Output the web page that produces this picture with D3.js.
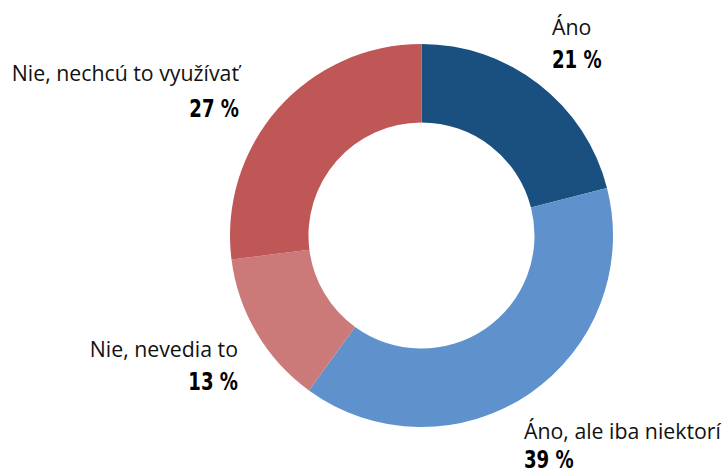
<!doctype html>
<html lang="sk">
<head>
  <meta charset="utf-8">
  <title>Donut</title>
  <style>
    body { margin: 0; background: #fff; }
    .lbl { font-family: "Open Sans", "Noto Sans", sans-serif; font-size: 21.3px; fill: #111; }
    .pct { font-family: "DejaVu Sans Condensed", "DejaVu Sans", sans-serif; font-weight: bold; font-size: 24px; fill: #000; }
  </style>
</head>
<body>
  <div id="chart"></div>
  <script src="https://cdn.jsdelivr.net/npm/d3@7"></script>
  <script>
var categories = ["Áno", "Áno, ale iba niektorí", "Nie, nevedia to", "Nie, nechcú to využívať"];
var values = [21, 39, 13, 27];
var colors = ["#1a5080", "#5f92cc", "#cb7a79", "#bf5757"];

(function() {
  var width = 725, height = 472;
  var cx = 421.5, cy = 235.5;
  var outer = 191.5, inner = 113;

  // label spots: x, baseline of name, baseline of percent
  var labelPos = [
    {x: 552, y1: 35, y2: 68, anchor: "start"},
    {x: 524, y1: 439, y2: 468, anchor: "start"},
    {x: 238, y1: 357, y2: 390, anchor: "end"},
    {x: 239, y1: 81, y2: 117, anchor: "end"}
  ];

  var svg = d3.select("#chart").append("svg")
      .attr("width", width)
      .attr("height", height);

  var pie = d3.pie().sort(null).value(function(d) { return d; });
  var arc = d3.arc().innerRadius(inner).outerRadius(outer);
  var color = d3.scaleOrdinal().domain(categories).range(colors);

  var g = svg.append("g").attr("transform", "translate(" + cx + "," + cy + ")");
  g.selectAll("path")
    .data(pie(values))
    .enter().append("path")
    .attr("d", arc)
    .attr("fill", function(d, i) { return color(categories[i]); });

  var labels = svg.selectAll("g.label")
    .data(categories)
    .enter().append("g")
    .attr("class", "label");

  labels.append("text")
    .attr("class", "lbl")
    .attr("x", function(d, i) { return labelPos[i].x; })
    .attr("y", function(d, i) { return labelPos[i].y1; })
    .attr("text-anchor", function(d, i) { return labelPos[i].anchor; })
    .text(function(d) { return d; });

  // condensed bold look: squeeze horizontally
  labels.append("text")
    .attr("class", "pct")
    .attr("transform", function(d, i) {
      return "translate(" + labelPos[i].x + "," + labelPos[i].y2 + ") scale(0.84,1)";
    })
    .attr("text-anchor", function(d, i) { return labelPos[i].anchor; })
    .text(function(d, i) { return values[i] + " %"; });
})();
  </script>
</body>
</html>
